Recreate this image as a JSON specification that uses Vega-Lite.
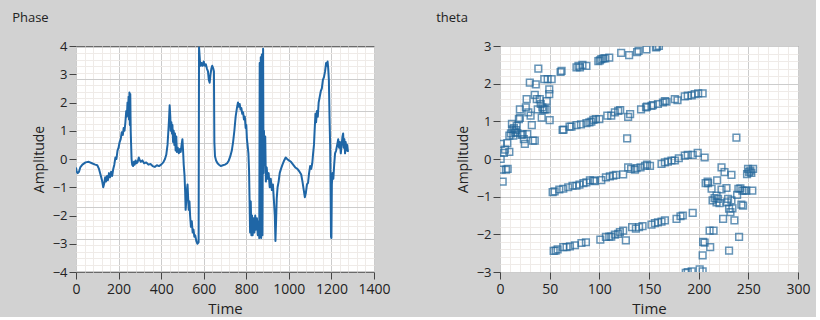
{
  "$schema": "https://vega.github.io/schema/vega-lite/v6.json",
  "background": "#d2d2d2",
  "padding": {"left": 11, "top": 11, "right": 5, "bottom": 0},
  "spacing": 44,
  "config": {
    "font": "Open Sans",
    "view": {"stroke": "#6a6a6a", "strokeWidth": 1, "fill": "#ffffff"},
    "axis": {
      "labelFont": "Open Sans", "labelFontSize": 13, "labelColor": "#222222",
      "titleFont": "Open Sans", "titleFontSize": 14, "titleFontWeight": "normal", "titleColor": "#222222",
      "domain": false, "tickColor": "#444444", "tickSize": 7, "labelPadding": 2, "format": "d",
      "labelOverlap": false, "labelFlush": false, "labelBound": false
    },
    "axisX": {"labelFontSize": 14, "titleFontSize": 15, "titlePadding": 5, "labelPadding": 3},
    "title": {"font": "Open Sans", "fontSize": 13, "fontWeight": "normal", "color": "#222222", "anchor": "start", "frame": "bounds"}
  },
  "hconcat": [
    {
      "title": {"text": "Phase", "dx": -20, "offset": 15},
      "width": 298,
      "height": 226,
      "data": {"values": [
        {"t":0,"a":-0.3},{"t":3,"a":-0.45},{"t":8,"a":-0.5},{"t":14,"a":-0.45},{"t":20,"a":-0.3},{"t":30,"a":-0.2},{"t":45,"a":-0.12},{"t":60,"a":-0.1},{"t":75,"a":-0.15},{"t":90,"a":-0.2},{"t":100,"a":-0.22},{"t":108,"a":-0.35},{"t":115,"a":-0.55},{"t":122,"a":-0.75},{"t":128,"a":-1.0},{"t":133,"a":-0.85},{"t":137,"a":-0.65},{"t":141,"a":-0.8},{"t":146,"a":-0.6},{"t":150,"a":-0.75},{"t":155,"a":-0.5},{"t":160,"a":-0.65},{"t":165,"a":-0.45},{"t":170,"a":-0.6},{"t":175,"a":-0.35},{"t":180,"a":-0.2},{"t":185,"a":0.05},{"t":190,"a":0.0},{"t":195,"a":0.3},{"t":200,"a":0.4},{"t":205,"a":0.6},{"t":210,"a":0.7},{"t":215,"a":0.95},{"t":220,"a":0.85},{"t":224,"a":1.1},{"t":228,"a":1.0},{"t":232,"a":1.3},{"t":236,"a":1.7},{"t":239,"a":1.5},{"t":242,"a":2.0},{"t":245,"a":1.6},{"t":247,"a":2.2},{"t":249,"a":1.4},{"t":251,"a":2.35},{"t":253,"a":1.2},{"t":255,"a":2.3},{"t":257,"a":1.0},{"t":259,"a":0.5},{"t":261,"a":0.0},{"t":264,"a":-0.2},{"t":268,"a":-0.25},{"t":272,"a":-0.1},{"t":276,"a":-0.2},{"t":280,"a":-0.05},{"t":285,"a":-0.15},{"t":290,"a":-0.1},{"t":295,"a":0.05},{"t":300,"a":-0.05},{"t":305,"a":-0.1},{"t":312,"a":-0.05},{"t":320,"a":-0.15},{"t":330,"a":-0.12},{"t":340,"a":-0.2},{"t":350,"a":-0.18},{"t":360,"a":-0.25},{"t":370,"a":-0.28},{"t":380,"a":-0.22},{"t":390,"a":-0.25},{"t":400,"a":-0.2},{"t":410,"a":-0.12},{"t":418,"a":0.0},{"t":424,"a":0.15},{"t":430,"a":0.5},{"t":434,"a":1.0},{"t":437,"a":1.4},{"t":440,"a":1.9},{"t":443,"a":1.5},{"t":445,"a":1.0},{"t":448,"a":1.3},{"t":451,"a":0.9},{"t":453,"a":1.2},{"t":456,"a":0.6},{"t":459,"a":1.0},{"t":462,"a":0.5},{"t":465,"a":0.9},{"t":468,"a":0.3},{"t":471,"a":0.8},{"t":474,"a":0.25},{"t":478,"a":0.4},{"t":483,"a":0.2},{"t":488,"a":0.35},{"t":492,"a":0.25},{"t":496,"a":0.5},{"t":500,"a":0.7},{"t":503,"a":0.3},{"t":506,"a":-0.2},{"t":510,"a":-0.6},{"t":513,"a":-1.2},{"t":515,"a":-1.8},{"t":518,"a":-1.5},{"t":521,"a":-1.1},{"t":524,"a":-0.9},{"t":527,"a":-1.4},{"t":530,"a":-1.8},{"t":533,"a":-1.5},{"t":536,"a":-2.0},{"t":540,"a":-2.4},{"t":544,"a":-2.2},{"t":548,"a":-2.6},{"t":552,"a":-2.5},{"t":556,"a":-2.75},{"t":560,"a":-2.7},{"t":565,"a":-2.9},{"t":570,"a":-3.0},{"t":576,"a":-2.95},{"t":578,"a":3.95},{"t":582,"a":3.5},{"t":586,"a":3.3},{"t":590,"a":3.4},{"t":595,"a":3.3},{"t":600,"a":3.45},{"t":605,"a":3.3},{"t":610,"a":3.35},{"t":615,"a":3.2},{"t":620,"a":3.1},{"t":624,"a":2.8},{"t":628,"a":2.7},{"t":632,"a":3.0},{"t":636,"a":3.2},{"t":640,"a":3.3},{"t":645,"a":3.2},{"t":648,"a":3.1},{"t":650,"a":0.6},{"t":653,"a":0.1},{"t":658,"a":-0.05},{"t":665,"a":-0.15},{"t":672,"a":-0.2},{"t":680,"a":-0.25},{"t":690,"a":-0.22},{"t":700,"a":-0.2},{"t":710,"a":-0.15},{"t":718,"a":-0.05},{"t":725,"a":0.1},{"t":732,"a":0.3},{"t":738,"a":0.6},{"t":744,"a":1.0},{"t":750,"a":1.5},{"t":756,"a":1.8},{"t":761,"a":2.0},{"t":765,"a":1.85},{"t":769,"a":1.95},{"t":773,"a":1.75},{"t":777,"a":1.8},{"t":781,"a":1.6},{"t":785,"a":1.65},{"t":789,"a":1.4},{"t":793,"a":1.5},{"t":797,"a":1.1},{"t":800,"a":1.2},{"t":803,"a":0.7},{"t":806,"a":0.5},{"t":810,"a":0.2},{"t":813,"a":-0.4},{"t":815,"a":-1.3},{"t":818,"a":-2.6},{"t":821,"a":-1.5},{"t":824,"a":-2.7},{"t":827,"a":-2.0},{"t":830,"a":-2.7},{"t":834,"a":-2.1},{"t":838,"a":-2.6},{"t":842,"a":-2.0},{"t":846,"a":-2.5},{"t":850,"a":-2.1},{"t":854,"a":-2.7},{"t":858,"a":-2.2},{"t":861,"a":-2.8},{"t":863,"a":3.4},{"t":865,"a":-2.7},{"t":868,"a":3.6},{"t":870,"a":-2.8},{"t":873,"a":3.7},{"t":876,"a":-2.7},{"t":879,"a":3.9},{"t":881,"a":-0.5},{"t":883,"a":1.0},{"t":886,"a":-0.2},{"t":889,"a":0.8},{"t":892,"a":-0.8},{"t":896,"a":-0.3},{"t":900,"a":-0.7},{"t":905,"a":-0.5},{"t":910,"a":-1.0},{"t":915,"a":-0.7},{"t":920,"a":-1.1},{"t":925,"a":-0.9},{"t":930,"a":-1.5},{"t":934,"a":-2.0},{"t":937,"a":-2.9},{"t":940,"a":-2.2},{"t":943,"a":-1.4},{"t":947,"a":-1.0},{"t":952,"a":-0.8},{"t":957,"a":-0.5},{"t":963,"a":-0.35},{"t":970,"a":-0.2},{"t":978,"a":-0.05},{"t":985,"a":0.05},{"t":992,"a":0.0},{"t":1000,"a":-0.05},{"t":1010,"a":-0.1},{"t":1020,"a":-0.2},{"t":1030,"a":-0.3},{"t":1040,"a":-0.35},{"t":1050,"a":-0.45},{"t":1058,"a":-0.55},{"t":1064,"a":-0.8},{"t":1070,"a":-1.1},{"t":1075,"a":-1.35},{"t":1080,"a":-1.2},{"t":1085,"a":-0.9},{"t":1090,"a":-0.85},{"t":1095,"a":-0.5},{"t":1100,"a":-0.25},{"t":1105,"a":-0.35},{"t":1110,"a":-0.15},{"t":1114,"a":0.2},{"t":1118,"a":0.5},{"t":1121,"a":1.0},{"t":1125,"a":1.6},{"t":1128,"a":1.3},{"t":1132,"a":1.7},{"t":1136,"a":1.5},{"t":1140,"a":2.0},{"t":1145,"a":2.2},{"t":1150,"a":2.4},{"t":1155,"a":2.5},{"t":1160,"a":2.8},{"t":1165,"a":2.9},{"t":1170,"a":3.1},{"t":1175,"a":3.4},{"t":1178,"a":3.3},{"t":1182,"a":3.45},{"t":1185,"a":3.2},{"t":1188,"a":2.8},{"t":1191,"a":1.5},{"t":1194,"a":0.5},{"t":1196,"a":-1.0},{"t":1198,"a":-2.75},{"t":1200,"a":-2.8},{"t":1202,"a":-0.9},{"t":1205,"a":-0.5},{"t":1209,"a":-0.7},{"t":1213,"a":-0.2},{"t":1217,"a":0.2},{"t":1222,"a":0.3},{"t":1227,"a":0.5},{"t":1232,"a":0.7},{"t":1236,"a":0.4},{"t":1240,"a":0.6},{"t":1244,"a":0.2},{"t":1248,"a":0.5},{"t":1252,"a":0.8},{"t":1255,"a":0.9},{"t":1258,"a":0.4},{"t":1261,"a":0.7},{"t":1264,"a":0.2},{"t":1267,"a":0.6},{"t":1270,"a":0.3},{"t":1274,"a":0.5},{"t":1278,"a":0.25}
      ]},
      "mark": {"type": "line", "color": "#1f66a6", "strokeWidth": 2, "clip": true, "strokeJoin": "round"},
      "encoding": {
        "x": {"field": "t", "type": "quantitative", "scale": {"domain": [0, 1400], "nice": false, "zero": false},
          "axis": {"title": "Time",
            "values": [0,40,80,120,160,200,240,280,320,360,400,440,480,520,560,600,640,680,720,760,800,840,880,920,960,1000,1040,1080,1120,1160,1200,1240,1280,1320,1360,1400],
            "labelExpr": "datum.value % 200 === 0 ? datum.label : ''",
            "gridColor": {"condition": {"test": "datum.value % 200 === 0", "value": "#cccccc"}, "value": "#efebe8"},
            "tickOpacity": {"condition": {"test": "datum.value % 200 === 0", "value": 1}, "value": 0}}},
        "y": {"field": "a", "type": "quantitative", "scale": {"domain": [-4, 4], "nice": false, "zero": false},
          "axis": {"title": "Amplitude", "titlePadding": 6,
            "values": [-4,-3,-2,-1,0,1,2,3,4,-3.962,-3.7356,-3.5092,-3.2828,-3.0564,-2.83,-2.6036,-2.3772,-2.1508,-1.9244,-1.698,-1.4716,-1.2452,-1.0188,-0.7924,-0.566,-0.3396,-0.1132,0.1132,0.3396,0.566,0.7924,1.0188,1.2452,1.4716,1.698,1.9244,2.1508,2.3772,2.6036,2.83,3.0564,3.2828,3.5092,3.7356,3.962],
            "labelExpr": "datum.value === round(datum.value) ? datum.label : ''",
            "gridOpacity": {"condition": {"test": "datum.value === round(datum.value)", "value": 0}, "value": 1},
            "gridColor": {"condition": {"test": "abs((abs(datum.value) - 0.566) / 1.132 - round((abs(datum.value) - 0.566) / 1.132)) < 0.01", "value": "#cccccc"}, "value": "#efebe8"},
            "tickOpacity": {"condition": {"test": "datum.value === round(datum.value)", "value": 1}, "value": 0}}}
      }
    },
    {
      "title": {"text": "theta", "dx": -20, "offset": 15},
      "width": 298,
      "height": 226,
      "data": {"values": [
        {"t":0.7,"a":0.40},{"t":0.7,"a":0.0},{"t":1.7,"a":-0.28},{"t":2.7,"a":-0.6},{"t":4,"a":0.16},{"t":5,"a":0.25},{"t":6,"a":-0.28},{"t":7.4,"a":0.42},{"t":7.7,"a":-0.26},{"t":9.4,"a":0.19},{"t":9.4,"a":0.62},{"t":11,"a":0.68},{"t":12,"a":0.93},{"t":12.4,"a":0.79},{"t":13.4,"a":0.62},{"t":14,"a":0.82},{"t":15,"a":0.71},{"t":16,"a":0.77},{"t":16.8,"a":0.88},{"t":17.4,"a":0.69},{"t":19,"a":1.06},{"t":20,"a":1.09},{"t":20,"a":1.32},{"t":21.8,"a":0.64},{"t":22.8,"a":0.66},{"t":24,"a":0.53},{"t":25,"a":0.40},{"t":26,"a":1.37},{"t":26.8,"a":1.59},{"t":27.5,"a":0.66},{"t":28.5,"a":1.24},{"t":30,"a":2.03},{"t":30.8,"a":1.15},{"t":32,"a":0.9},{"t":33,"a":0.49},{"t":35,"a":0.49},{"t":35,"a":1.70},{"t":36,"a":1.98},{"t":37,"a":1.59},{"t":38,"a":1.32},{"t":38.6,"a":2.4},{"t":40,"a":1.59},{"t":41,"a":1.46},{"t":42,"a":1.1},{"t":42.6,"a":1.37},{"t":43.6,"a":1.32},{"t":44.6,"a":2.12},{"t":45,"a":1.32},{"t":47,"a":1.54},{"t":47,"a":1.32},{"t":48,"a":2.12},{"t":49.6,"a":1.85},{"t":49.6,"a":1.72},{"t":50,"a":1.03},{"t":52,"a":2.12},
        {"t":61,"a":2.31},{"t":62,"a":2.34},{"t":77,"a":2.43},{"t":79,"a":2.47},{"t":80.5,"a":2.43},{"t":83,"a":2.5},{"t":87,"a":2.47},{"t":99,"a":2.6},{"t":100.6,"a":2.62},{"t":102,"a":2.65},{"t":104,"a":2.67},{"t":106,"a":2.67},{"t":110,"a":2.69},{"t":122,"a":2.82},{"t":130,"a":2.76},{"t":138,"a":2.84},{"t":139.5,"a":2.87},{"t":147.5,"a":2.91},{"t":157,"a":2.96},{"t":158,"a":2.98},{"t":160,"a":3.0},
        {"t":63,"a":0.77},{"t":64,"a":0.78},{"t":70,"a":0.86},{"t":72,"a":0.86},{"t":77,"a":0.9},{"t":81.5,"a":0.92},{"t":87,"a":0.95},{"t":90,"a":0.97},{"t":92,"a":0.99},{"t":94,"a":1.04},{"t":96.5,"a":1.06},{"t":100,"a":1.06},{"t":108,"a":1.15},{"t":112,"a":1.15},{"t":115.6,"a":1.24},{"t":119,"a":1.28},{"t":121,"a":1.3},{"t":129,"a":1.12},{"t":131,"a":1.19},{"t":128,"a":0.55},{"t":142,"a":1.32},{"t":147,"a":1.37},{"t":148,"a":1.39},{"t":152.5,"a":1.41},{"t":154,"a":1.43},{"t":159,"a":1.46},{"t":164,"a":1.5},{"t":166,"a":1.54},{"t":167.6,"a":1.52},{"t":176,"a":1.59},{"t":178.7,"a":1.56},{"t":186,"a":1.66},{"t":189,"a":1.68},{"t":193,"a":1.69},{"t":196,"a":1.72},{"t":199.5,"a":1.74},{"t":204,"a":1.74},
        {"t":53,"a":-0.88},{"t":55,"a":-0.86},{"t":59.7,"a":-0.81},{"t":63.7,"a":-0.79},{"t":68.7,"a":-0.75},{"t":73,"a":-0.71},{"t":77,"a":-0.71},{"t":80,"a":-0.68},{"t":84,"a":-0.64},{"t":87,"a":-0.62},{"t":90.5,"a":-0.57},{"t":94,"a":-0.57},{"t":95.5,"a":-0.59},{"t":102,"a":-0.56},{"t":106.6,"a":-0.49},{"t":110.6,"a":-0.46},{"t":114,"a":-0.44},{"t":116.7,"a":-0.42},{"t":124,"a":-0.41},{"t":129,"a":-0.22},{"t":132,"a":-0.26},{"t":135.8,"a":-0.28},{"t":137.4,"a":-0.24},{"t":141.5,"a":-0.22},{"t":146,"a":-0.18},{"t":148,"a":-0.15},{"t":151,"a":-0.18},{"t":162.6,"a":-0.13},{"t":166,"a":-0.09},{"t":169,"a":-0.07},{"t":172.6,"a":-0.04},{"t":176,"a":-0.04},{"t":180,"a":0.02},{"t":186,"a":0.09},{"t":189,"a":0.11},{"t":194,"a":0.11},{"t":199,"a":0.16},{"t":206,"a":0.04},
        {"t":54,"a":-2.44},{"t":56,"a":-2.43},{"t":58,"a":-2.4},{"t":63.7,"a":-2.34},{"t":67,"a":-2.34},{"t":70.4,"a":-2.32},{"t":75.4,"a":-2.29},{"t":82,"a":-2.23},{"t":86.5,"a":-2.21},{"t":101,"a":-2.14},{"t":106.6,"a":-2.07},{"t":110,"a":-2.06},{"t":112,"a":-2.06},{"t":115.6,"a":-2.01},{"t":119,"a":-1.99},{"t":120.7,"a":-1.94},{"t":124,"a":-1.9},{"t":126.7,"a":-2.16},{"t":133,"a":-1.81},{"t":136.8,"a":-1.85},{"t":140,"a":-1.81},{"t":143.5,"a":-1.78},{"t":152.5,"a":-1.74},{"t":156,"a":-1.7},{"t":159,"a":-1.68},{"t":162.6,"a":-1.66},{"t":166,"a":-1.63},{"t":177.7,"a":-1.59},{"t":181.7,"a":-1.52},{"t":184,"a":-1.5},{"t":194,"a":-1.43},
        {"t":187,"a":-3.02},{"t":189,"a":-3.0},{"t":193,"a":-2.98},{"t":201,"a":-2.93},{"t":204,"a":-2.98},
        {"t":204.5,"a":-2.2},{"t":206,"a":-2.22},{"t":204,"a":-2.56},{"t":207,"a":-0.64},{"t":209,"a":-0.6},{"t":209.5,"a":-0.64},{"t":213,"a":-0.79},{"t":211,"a":-1.9},{"t":215,"a":-1.9},{"t":211.6,"a":-2.34},{"t":214,"a":-1.1},{"t":216,"a":-1.04},{"t":218,"a":-0.97},{"t":218.6,"a":-0.57},{"t":218,"a":-1.15},{"t":219.5,"a":-1.06},{"t":221,"a":-1.17},{"t":223,"a":-0.22},{"t":223,"a":-0.81},{"t":224.6,"a":-1.59},{"t":226,"a":-0.35},{"t":228,"a":-0.77},{"t":228.6,"a":-1.15},{"t":229.6,"a":-1.06},{"t":230.6,"a":-1.32},{"t":230.6,"a":-2.43},{"t":233,"a":-0.42},{"t":232,"a":-1.41},{"t":233,"a":-1.1},{"t":234,"a":-1.31},{"t":236,"a":-1.63},{"t":238,"a":0.57},{"t":238.7,"a":-0.95},{"t":240,"a":-0.79},{"t":240.7,"a":-2.07},{"t":242,"a":-0.78},{"t":244,"a":-0.84},{"t":243,"a":-1.21},{"t":244.7,"a":-1.24},{"t":246,"a":-0.84},{"t":248,"a":-0.84},{"t":248.7,"a":-0.4},{"t":249.7,"a":-0.26},{"t":250.7,"a":-0.35},{"t":252,"a":-0.31},{"t":253,"a":-0.37},{"t":254,"a":-0.84},{"t":254.8,"a":-0.26}
      ]},
      "mark": {"type": "point", "shape": "square", "filled": false, "size": 45, "strokeWidth": 1.5, "color": "#24679a", "clip": true},
      "encoding": {
        "x": {"field": "t", "type": "quantitative", "scale": {"domain": [0, 300], "nice": false, "zero": false},
          "axis": {"title": "Time",
            "values": [0,10,20,30,40,50,60,70,80,90,100,110,120,130,140,150,160,170,180,190,200,210,220,230,240,250,260,270,280,290,300],
            "labelExpr": "datum.value % 50 === 0 ? datum.label : ''",
            "gridColor": {"condition": {"test": "datum.value % 50 === 0", "value": "#cccccc"}, "value": "#efebe8"},
            "tickOpacity": {"condition": {"test": "datum.value % 50 === 0", "value": 1}, "value": 0}}},
        "y": {"field": "a", "type": "quantitative", "scale": {"domain": [-3, 3], "nice": false, "zero": false},
          "axis": {"title": "Amplitude", "titlePadding": 6,
            "values": [-3,-2.8,-2.6,-2.4,-2.2,-2,-1.8,-1.6,-1.4,-1.2,-1,-0.8,-0.6,-0.4,-0.2,0,0.2,0.4,0.6,0.8,1,1.2,1.4,1.6,1.8,2,2.2,2.4,2.6,2.8,3],
            "labelExpr": "datum.value === round(datum.value) ? datum.label : ''",
            "gridColor": {"condition": {"test": "datum.value === round(datum.value)", "value": "#cccccc"}, "value": "#efebe8"},
            "tickOpacity": {"condition": {"test": "datum.value === round(datum.value)", "value": 1}, "value": 0}}}
      }
    }
  ]
}
